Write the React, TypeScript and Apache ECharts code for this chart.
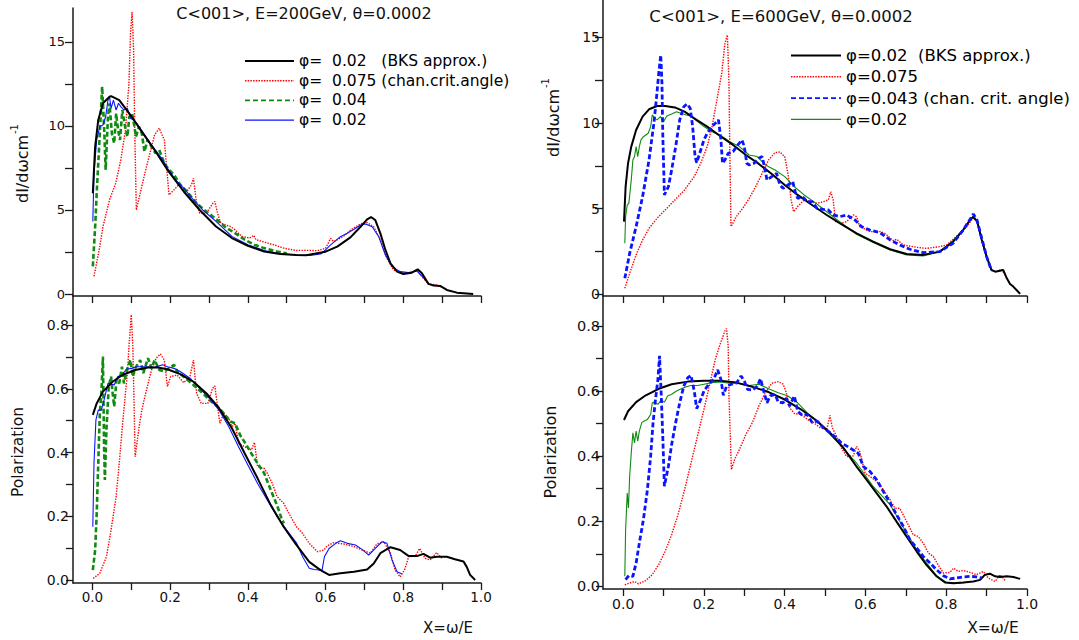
import React, { useEffect, useRef } from "react";
import * as echarts from "echarts";

const FONT = "DejaVu Sans";
const AXIS_COLOR = "#1a1a1a";

const X_TICKS = [0, 0.1, 0.2, 0.3, 0.4, 0.5, 0.6, 0.7, 0.8, 0.9, 1.0];
const X_LABELS = [0, 0.2, 0.4, 0.6, 0.8, 1.0];
const DI_TICKS = [0, 2.5, 5, 7.5, 10, 12.5, 15];
const DI_LABELS = [0, 5, 10, 15];
const POL_TICKS = [0, 0.1, 0.2, 0.3, 0.4, 0.5, 0.6, 0.7, 0.8];
const POL_LABELS = [0, 0.2, 0.4, 0.6, 0.8];

const LEFT_NAMES = ["φ=  0.02   (BKS approx.)", "φ=  0.075 (chan.crit.angle)", "φ=  0.04", "φ=  0.02"];
const RIGHT_NAMES = ["φ=0.02  (BKS approx.)", "φ=0.075", "φ=0.043 (chan. crit. angle)", "φ=0.02"];

const TITLE_LEFT = "C<001>, E=200GeV, θ=0.0002";
const TITLE_RIGHT = "C<001>, E=600GeV, θ=0.0002";

// ---------- E = 200 GeV, intensity ----------
const L_INT_BKS = [[0.001,6.0],[0.007,8.77],[0.015,10.36],[0.027,11.35],[0.044,11.74],[0.048,11.78],[0.069,11.54],[0.098,10.65],[0.127,9.66],[0.16,8.57],[0.193,7.39],[0.235,6.1],[0.276,5.0],[0.318,4.02],[0.359,3.33],[0.40,2.87],[0.442,2.53],[0.483,2.38],[0.525,2.32],[0.55,2.31],[0.6,2.52],[0.63,2.82],[0.664,3.37],[0.69,4.0],[0.707,4.44],[0.717,4.58],[0.728,4.4],[0.741,3.61],[0.754,2.62],[0.767,1.83],[0.784,1.33],[0.80,1.19],[0.822,1.27],[0.837,1.47],[0.848,1.23],[0.865,0.6],[0.878,0.5],[0.895,0.48],[0.912,0.24],[0.938,0.08],[0.98,0]];
const L_INT_075 = [[0.004,1.05],[0.019,2.83],[0.027,4.0],[0.044,5.6],[0.06,6.6],[0.073,7.98],[0.085,9.76],[0.094,12.53],[0.098,15.5],[0.102,16.8],[0.106,14.5],[0.109,9.56],[0.113,5.0],[0.123,6.0],[0.135,7.19],[0.148,8.38],[0.16,9.47],[0.172,9.86],[0.185,9.17],[0.193,6.99],[0.197,5.9],[0.21,6.2],[0.222,6.5],[0.243,6.1],[0.255,6.5],[0.26,6.89],[0.268,5.4],[0.276,4.81],[0.293,4.81],[0.31,5.4],[0.315,5.5],[0.322,4.81],[0.33,4.22],[0.342,4.12],[0.355,4.02],[0.367,3.82],[0.384,3.43],[0.405,3.33],[0.415,3.49],[0.421,3.23],[0.442,3.09],[0.467,2.93],[0.492,2.73],[0.525,2.59],[0.55,2.6],[0.579,2.58],[0.6,2.72],[0.613,3.31],[0.621,3.11],[0.647,3.45],[0.664,3.81],[0.69,4.17],[0.707,4.25],[0.724,4.0],[0.741,3.21],[0.758,2.12],[0.775,1.43],[0.792,1.27],[0.818,1.27],[0.835,1.39],[0.848,1.03],[0.865,0.6],[0.886,0.54],[0.9,0.4]];
const L_INT_04 = [[0.001,1.64],[0.007,4.0],[0.011,6.0],[0.019,9.56],[0.025,12.34],[0.03,9.96],[0.034,7.39],[0.04,10.55],[0.044,11.35],[0.05,9.56],[0.056,8.97],[0.061,10.75],[0.066,9.76],[0.071,9.17],[0.077,10.95],[0.084,9.96],[0.09,9.37],[0.095,10.55],[0.102,10.75],[0.108,9.96],[0.112,9.37],[0.12,9.96],[0.127,9.56],[0.134,8.48],[0.142,9.17],[0.152,8.77],[0.162,8.38],[0.172,8.57],[0.185,7.78],[0.197,7.39],[0.21,7.09],[0.226,6.5],[0.243,6.1],[0.268,5.4],[0.293,4.91],[0.318,4.46],[0.342,3.98],[0.367,3.62],[0.392,3.23],[0.417,2.93],[0.442,2.73],[0.475,2.53],[0.5,2.42]];
const L_INT_02 = [[0.001,4.32],[0.004,7.19],[0.011,9.17],[0.019,9.96],[0.027,10.06],[0.034,10.55],[0.04,11.54],[0.044,11.74],[0.048,11.05],[0.054,11.54],[0.061,10.95],[0.067,11.35],[0.073,11.15],[0.081,10.95],[0.09,11.05],[0.098,10.46],[0.106,10.36],[0.114,10.16],[0.152,8.87],[0.181,7.98],[0.193,7.49],[0.214,6.79],[0.235,6.3],[0.26,5.6],[0.284,5.0],[0.318,4.32],[0.359,3.43],[0.4,2.93],[0.442,2.59],[0.483,2.4],[0.525,2.32],[0.56,2.3],[0.587,2.38],[0.6,2.62],[0.613,2.92],[0.638,3.41],[0.656,3.61],[0.673,3.85],[0.69,4.11],[0.703,4.17],[0.72,4.0],[0.737,3.41],[0.754,2.32],[0.771,1.63],[0.792,1.33],[0.813,1.27],[0.835,1.37],[0.848,1.07],[0.865,0.6],[0.88,0.52]];

// ---------- E = 200 GeV, polarization ----------
const L_POL_BKS = [[0.001,0.518],[0.011,0.554],[0.027,0.591],[0.052,0.622],[0.077,0.643],[0.11,0.659],[0.143,0.667],[0.168,0.667],[0.193,0.661],[0.226,0.646],[0.26,0.622],[0.293,0.586],[0.326,0.539],[0.359,0.476],[0.392,0.397],[0.425,0.319],[0.459,0.235],[0.492,0.167],[0.525,0.11],[0.558,0.057],[0.587,0.031],[0.609,0.016],[0.638,0.021],[0.673,0.026],[0.707,0.033],[0.724,0.052],[0.741,0.084],[0.767,0.103],[0.792,0.094],[0.814,0.075],[0.835,0.075],[0.852,0.082],[0.869,0.07],[0.886,0.073],[0.912,0.073],[0.933,0.065],[0.955,0.058],[0.963,0.042],[0.972,0.016],[0.985,0]];
const L_POL_075 = [[0.002,0.005],[0.019,0.021],[0.036,0.073],[0.048,0.157],[0.061,0.262],[0.069,0.366],[0.077,0.481],[0.085,0.586],[0.09,0.649],[0.094,0.732],[0.1,0.832],[0.104,0.732],[0.108,0.502],[0.11,0.387],[0.119,0.471],[0.127,0.533],[0.139,0.596],[0.152,0.659],[0.164,0.696],[0.175,0.709],[0.185,0.69],[0.193,0.607],[0.201,0.638],[0.218,0.643],[0.235,0.619],[0.251,0.638],[0.26,0.69],[0.268,0.586],[0.28,0.554],[0.297,0.554],[0.309,0.601],[0.315,0.609],[0.322,0.544],[0.328,0.492],[0.338,0.523],[0.351,0.507],[0.359,0.481],[0.367,0.492],[0.376,0.429],[0.392,0.418],[0.409,0.408],[0.417,0.432],[0.425,0.356],[0.442,0.35],[0.45,0.335],[0.463,0.303],[0.475,0.262],[0.492,0.241],[0.508,0.204],[0.525,0.167],[0.541,0.146],[0.558,0.115],[0.579,0.089],[0.596,0.094],[0.604,0.107],[0.621,0.117],[0.647,0.113],[0.673,0.105],[0.698,0.092],[0.715,0.084],[0.732,0.113],[0.75,0.12],[0.767,0.084],[0.779,0.031],[0.792,0.01],[0.803,0.031],[0.814,0.073],[0.831,0.075],[0.842,0.099],[0.856,0.068],[0.869,0.063],[0.886,0.086],[0.899,0.068]];
const L_POL_04 = [[0.001,0.031],[0.007,0.094],[0.011,0.209],[0.015,0.366],[0.019,0.523],[0.023,0.586],[0.027,0.701],[0.03,0.418],[0.032,0.314],[0.036,0.471],[0.042,0.607],[0.048,0.638],[0.052,0.586],[0.056,0.544],[0.062,0.628],[0.069,0.617],[0.076,0.669],[0.081,0.617],[0.09,0.664],[0.098,0.69],[0.104,0.638],[0.11,0.664],[0.123,0.69],[0.131,0.649],[0.143,0.696],[0.152,0.664],[0.16,0.69],[0.172,0.659],[0.185,0.654],[0.197,0.664],[0.21,0.675],[0.218,0.654],[0.235,0.638],[0.26,0.612],[0.284,0.586],[0.301,0.565],[0.322,0.544],[0.338,0.523],[0.355,0.497],[0.367,0.492],[0.38,0.455],[0.396,0.424],[0.409,0.397],[0.425,0.366],[0.442,0.335],[0.459,0.282],[0.475,0.235],[0.488,0.188],[0.493,0.178]];
const L_POL_02 = [[0.001,0.167],[0.004,0.366],[0.009,0.502],[0.015,0.533],[0.023,0.533],[0.03,0.565],[0.04,0.617],[0.048,0.615],[0.056,0.612],[0.065,0.638],[0.077,0.643],[0.087,0.661],[0.102,0.664],[0.114,0.669],[0.135,0.669],[0.16,0.667],[0.181,0.675],[0.193,0.669],[0.21,0.664],[0.226,0.654],[0.251,0.633],[0.276,0.601],[0.301,0.57],[0.326,0.533],[0.351,0.481],[0.376,0.418],[0.4,0.361],[0.425,0.303],[0.45,0.251],[0.475,0.199],[0.5,0.157],[0.525,0.117],[0.541,0.073],[0.558,0.037],[0.57,0.033],[0.591,0.031],[0.597,0.073],[0.609,0.099],[0.626,0.115],[0.638,0.123],[0.656,0.115],[0.677,0.11],[0.694,0.096],[0.711,0.078],[0.728,0.099],[0.745,0.12],[0.758,0.115],[0.771,0.063],[0.784,0.026],[0.797,0.019]];

// ---------- E = 600 GeV, intensity ----------
const R_INT_BKS = [[0.002,4.24],[0.006,6.28],[0.012,7.65],[0.02,8.62],[0.032,9.59],[0.048,10.37],[0.064,10.8],[0.084,10.99],[0.104,10.99],[0.128,10.91],[0.152,10.66],[0.176,10.27],[0.208,9.79],[0.24,9.24],[0.272,8.72],[0.304,8.13],[0.336,7.61],[0.368,7.02],[0.4,6.38],[0.432,5.8],[0.464,5.27],[0.504,4.63],[0.536,4.16],[0.578,3.56],[0.619,3.07],[0.661,2.63],[0.702,2.35],[0.743,2.3],[0.784,2.49],[0.817,3.07],[0.842,3.75],[0.859,4.34],[0.867,4.53],[0.877,4.24],[0.888,3.17],[0.9,2.2],[0.912,1.42],[0.921,1.32],[0.933,1.38],[0.941,1.42],[0.95,0.93],[0.958,0.6],[0.966,0.45],[0.974,0.25],[0.983,0.02]];
const R_INT_075 = [[0.004,0.35],[0.016,1.23],[0.032,2.3],[0.048,3.17],[0.064,3.85],[0.084,4.44],[0.104,4.92],[0.128,5.51],[0.152,6.09],[0.176,6.87],[0.192,7.65],[0.208,8.62],[0.22,9.79],[0.232,11.34],[0.244,12.9],[0.252,14.65],[0.258,15.14],[0.262,12.32],[0.264,8.42],[0.267,3.95],[0.28,4.53],[0.296,5.02],[0.312,5.6],[0.328,6.28],[0.344,7.06],[0.36,7.84],[0.376,8.27],[0.388,8.31],[0.4,8.03],[0.408,7.06],[0.416,5.51],[0.422,4.82],[0.432,5.12],[0.448,5.51],[0.464,5.41],[0.48,5.31],[0.496,5.41],[0.508,5.51],[0.514,5.99],[0.52,5.51],[0.526,4.24],[0.54,4.14],[0.553,4.24],[0.57,4.63],[0.578,4.53],[0.586,3.95],[0.611,3.66],[0.636,3.66],[0.648,3.56],[0.669,3.13],[0.677,3.21],[0.694,2.88],[0.727,2.74],[0.751,2.68],[0.784,2.78],[0.801,2.88],[0.817,3.21],[0.834,3.56],[0.851,3.95],[0.863,4.34],[0.87,4.44],[0.877,4.14],[0.888,3.17],[0.9,2.2],[0.912,1.38],[0.925,1.32],[0.937,1.46],[0.946,1.13]];
const R_INT_043 = [[0.004,0.93],[0.016,2.39],[0.032,3.95],[0.048,5.7],[0.064,7.84],[0.076,9.98],[0.082,11.34],[0.088,12.9],[0.093,13.97],[0.096,12.32],[0.098,9.4],[0.102,5.8],[0.112,6.28],[0.12,7.26],[0.13,8.62],[0.14,10.18],[0.15,10.95],[0.158,11.11],[0.166,10.86],[0.172,9.79],[0.178,8.04],[0.182,7.68],[0.192,8.42],[0.2,9.01],[0.208,9.4],[0.22,9.79],[0.228,9.98],[0.236,10.18],[0.242,9.01],[0.246,7.65],[0.252,7.84],[0.26,8.23],[0.272,8.33],[0.284,8.72],[0.294,9.01],[0.3,8.62],[0.306,7.65],[0.312,7.55],[0.324,7.65],[0.336,7.94],[0.344,8.04],[0.35,7.45],[0.356,6.67],[0.368,6.87],[0.38,7.06],[0.388,6.38],[0.396,6.19],[0.408,6.38],[0.42,6.58],[0.426,5.99],[0.432,5.6],[0.444,5.7],[0.456,5.41],[0.468,5.41],[0.48,5.02],[0.496,4.96],[0.508,4.92],[0.52,4.63],[0.536,4.53],[0.553,4.63],[0.574,4.34],[0.59,3.95],[0.611,3.75],[0.636,3.6],[0.661,3.17],[0.685,2.88],[0.71,2.63],[0.743,2.43],[0.784,2.49],[0.817,2.98],[0.842,3.75],[0.859,4.38],[0.867,4.69],[0.876,4.34],[0.888,3.27],[0.9,2.2],[0.912,1.38]];
const R_INT_02 = [[0.004,2.98],[0.006,4.53],[0.01,5.21],[0.014,5.31],[0.02,6.67],[0.024,7.84],[0.028,8.04],[0.032,8.62],[0.036,8.04],[0.04,8.62],[0.044,9.01],[0.05,9.2],[0.056,9.3],[0.062,9.4],[0.068,9.79],[0.072,10.47],[0.078,10.27],[0.084,10.18],[0.092,10.37],[0.1,10.08],[0.108,10.41],[0.12,10.53],[0.132,10.66],[0.144,10.56],[0.156,10.47],[0.168,10.41],[0.184,10.08],[0.2,9.79],[0.22,9.49],[0.24,9.3],[0.264,8.91],[0.288,8.62],[0.312,8.13],[0.332,8.04],[0.352,7.55],[0.376,7.26],[0.4,6.87],[0.424,6.28],[0.448,5.8],[0.472,5.41],[0.504,4.82],[0.536,4.24],[0.578,3.5],[0.619,3.02],[0.661,2.59],[0.702,2.3],[0.743,2.24],[0.784,2.49],[0.817,3.13],[0.842,3.79],[0.859,4.34],[0.866,4.49],[0.876,4.24],[0.888,3.21],[0.9,2.2]];

// ---------- E = 600 GeV, polarization ----------
const R_POL_BKS = [[0.002,0.511],[0.012,0.538],[0.032,0.566],[0.056,0.587],[0.088,0.607],[0.12,0.621],[0.16,0.629],[0.2,0.632],[0.24,0.632],[0.28,0.626],[0.32,0.613],[0.36,0.597],[0.4,0.574],[0.44,0.544],[0.48,0.508],[0.512,0.472],[0.544,0.428],[0.578,0.368],[0.603,0.327],[0.628,0.286],[0.652,0.246],[0.677,0.199],[0.702,0.153],[0.727,0.107],[0.751,0.066],[0.776,0.031],[0.797,0.012],[0.818,0.01],[0.842,0.012],[0.867,0.015],[0.884,0.02],[0.896,0.036],[0.908,0.039],[0.921,0.031],[0.933,0.029],[0.95,0.031],[0.966,0.029],[0.983,0.023]];
const R_POL_075 = [[0.004,0.005],[0.02,0.012],[0.028,0.015],[0.038,0.008],[0.056,0.018],[0.072,0.036],[0.088,0.067],[0.104,0.108],[0.12,0.159],[0.136,0.221],[0.152,0.297],[0.168,0.379],[0.184,0.462],[0.2,0.544],[0.216,0.631],[0.228,0.697],[0.24,0.744],[0.252,0.785],[0.256,0.792],[0.26,0.738],[0.262,0.585],[0.266,0.431],[0.268,0.359],[0.276,0.39],[0.288,0.421],[0.304,0.467],[0.32,0.503],[0.336,0.554],[0.352,0.595],[0.368,0.624],[0.384,0.629],[0.396,0.621],[0.404,0.595],[0.412,0.549],[0.424,0.531],[0.44,0.528],[0.456,0.513],[0.472,0.503],[0.488,0.487],[0.504,0.482],[0.512,0.525],[0.518,0.487],[0.528,0.462],[0.54,0.426],[0.553,0.399],[0.57,0.401],[0.578,0.43],[0.586,0.414],[0.599,0.348],[0.611,0.338],[0.628,0.322],[0.644,0.297],[0.661,0.266],[0.673,0.24],[0.685,0.24],[0.702,0.199],[0.718,0.159],[0.731,0.153],[0.743,0.133],[0.756,0.102],[0.768,0.092],[0.78,0.066],[0.793,0.041],[0.809,0.043],[0.818,0.056],[0.83,0.046],[0.842,0.049],[0.859,0.043],[0.875,0.036],[0.892,0.046],[0.904,0.026],[0.921,0.015],[0.933,0.036],[0.946,0.018]];
const R_POL_043 = [[0.006,0.021],[0.014,0.033],[0.024,0.031],[0.032,0.072],[0.04,0.133],[0.05,0.205],[0.06,0.297],[0.068,0.4],[0.074,0.503],[0.08,0.574],[0.086,0.636],[0.09,0.708],[0.094,0.595],[0.098,0.462],[0.102,0.308],[0.112,0.369],[0.12,0.436],[0.13,0.503],[0.14,0.564],[0.15,0.615],[0.16,0.641],[0.168,0.648],[0.176,0.6],[0.182,0.546],[0.192,0.574],[0.2,0.6],[0.212,0.621],[0.224,0.636],[0.234,0.665],[0.242,0.636],[0.248,0.587],[0.256,0.615],[0.268,0.621],[0.28,0.624],[0.292,0.646],[0.3,0.631],[0.308,0.605],[0.32,0.603],[0.332,0.615],[0.34,0.638],[0.348,0.6],[0.356,0.564],[0.364,0.585],[0.376,0.59],[0.384,0.566],[0.396,0.564],[0.404,0.579],[0.412,0.554],[0.424,0.585],[0.432,0.538],[0.444,0.525],[0.456,0.528],[0.468,0.503],[0.48,0.508],[0.496,0.487],[0.512,0.472],[0.528,0.456],[0.54,0.441],[0.562,0.425],[0.582,0.409],[0.595,0.368],[0.611,0.353],[0.628,0.327],[0.644,0.292],[0.661,0.256],[0.677,0.22],[0.694,0.184],[0.71,0.143],[0.727,0.118],[0.743,0.092],[0.76,0.072],[0.776,0.051],[0.793,0.033],[0.809,0.023],[0.826,0.026],[0.842,0.029],[0.859,0.031],[0.875,0.029],[0.888,0.026]];
const R_POL_02 = [[0.004,0.031],[0.006,0.174],[0.01,0.287],[0.013,0.241],[0.016,0.338],[0.02,0.41],[0.024,0.472],[0.028,0.441],[0.032,0.477],[0.036,0.446],[0.04,0.477],[0.046,0.503],[0.052,0.508],[0.06,0.513],[0.068,0.528],[0.072,0.564],[0.078,0.566],[0.086,0.559],[0.094,0.572],[0.102,0.566],[0.11,0.585],[0.12,0.59],[0.132,0.6],[0.144,0.607],[0.156,0.613],[0.168,0.617],[0.184,0.617],[0.2,0.621],[0.22,0.626],[0.24,0.628],[0.264,0.624],[0.288,0.624],[0.312,0.617],[0.336,0.621],[0.36,0.607],[0.384,0.595],[0.408,0.585],[0.432,0.564],[0.456,0.533],[0.48,0.508],[0.504,0.477],[0.536,0.436],[0.578,0.379],[0.619,0.307],[0.661,0.251],[0.702,0.164],[0.727,0.113],[0.751,0.072],[0.776,0.033],[0.801,0.012],[0.826,0.01],[0.851,0.012]];

const fmt1 = (v: number) => v.toFixed(1);
const fmt0 = (v: number) => String(v);

function xAxis(gridIndex: number, labels: boolean, labelSize: number, margin: number) {
  return {
    type: "value",
    gridIndex,
    min: -0.05,
    max: 1.0,
    axisLine: { show: true, onZero: false, lineStyle: { color: AXIS_COLOR, width: 1.5 } },
    axisTick: { show: true, inside: false, length: 7, customValues: X_TICKS, lineStyle: { color: AXIS_COLOR, width: 1.3 } },
    axisLabel: labels
      ? { show: true, customValues: X_LABELS, formatter: fmt1, margin, fontFamily: FONT, fontSize: labelSize, color: "#111" }
      : { show: false },
    splitLine: { show: false },
  };
}

function yAxis(gridIndex: number, min: number, max: number, ticks: number[], labels: number[], fmt: (v: number) => string, labelSize: number, margin: number, tickLen: number) {
  return {
    type: "value",
    gridIndex,
    min,
    max,
    axisLine: { show: true, onZero: false, lineStyle: { color: AXIS_COLOR, width: 1.5 } },
    axisTick: { show: true, inside: false, length: tickLen, customValues: ticks, lineStyle: { color: AXIS_COLOR, width: 1.3 } },
    axisLabel: { show: true, customValues: labels, formatter: fmt, margin, fontFamily: FONT, fontSize: labelSize, color: "#111" },
    splitLine: { show: false },
  };
}

function line(name: string, data: number[][], idx: number, color: string, width: number, type: any, z: number) {
  return {
    type: "line",
    name,
    data,
    xAxisIndex: idx,
    yAxisIndex: idx,
    symbol: "none",
    showSymbol: false,
    smooth: false,
    clip: true,
    silent: true,
    z,
    itemStyle: { color },
    lineStyle: { color, width, type },
  };
}

const RED = "#ff0000";
const GREEN = "#118a11";
const BLUE = "#0a14ff";
const BLACK = "#000000";
const DOT = [1.4, 1.3];
const DASH = [5, 2.6];

function buildOption() {
  const series: any[] = [];
  // Top-left: E=200GeV intensity (grid 0), bottom-left: polarization (grid 1)
  series.push(line(LEFT_NAMES[1], L_INT_075, 0, RED, 1.4, DOT, 2));
  series.push(line(LEFT_NAMES[2], L_INT_04, 0, GREEN, 2.6, DASH, 3));
  series.push(line(LEFT_NAMES[3], L_INT_02, 0, BLUE, 1.1, "solid", 4));
  series.push(line(LEFT_NAMES[0], L_INT_BKS, 0, BLACK, 2, "solid", 5));
  series.push(line(LEFT_NAMES[1], L_POL_075, 1, RED, 1.4, DOT, 2));
  series.push(line(LEFT_NAMES[2], L_POL_04, 1, GREEN, 2.6, DASH, 3));
  series.push(line(LEFT_NAMES[3], L_POL_02, 1, BLUE, 1.1, "solid", 4));
  series.push(line(LEFT_NAMES[0], L_POL_BKS, 1, BLACK, 2, "solid", 5));
  // Top-right: E=600GeV intensity (grid 2), bottom-right: polarization (grid 3)
  series.push(line(RIGHT_NAMES[1], R_INT_075, 2, RED, 1.4, DOT, 2));
  series.push(line(RIGHT_NAMES[3], R_INT_02, 2, GREEN, 1.1, "solid", 3));
  series.push(line(RIGHT_NAMES[0], R_INT_BKS, 2, BLACK, 2, "solid", 4));
  series.push(line(RIGHT_NAMES[2], R_INT_043, 2, BLUE, 2.8, DASH, 5));
  series.push(line(RIGHT_NAMES[1], R_POL_075, 3, RED, 1.4, DOT, 2));
  series.push(line(RIGHT_NAMES[3], R_POL_02, 3, GREEN, 1.1, "solid", 3));
  series.push(line(RIGHT_NAMES[0], R_POL_BKS, 3, BLACK, 2, "solid", 4));
  series.push(line(RIGHT_NAMES[2], R_POL_043, 3, BLUE, 2.8, DASH, 5));

  const legendLeftStyles = [
    { color: BLACK, width: 2, type: "solid" },
    { color: RED, width: 1.4, type: [1.5, 1.2] },
    { color: GREEN, width: 1.6, type: [5, 3] },
    { color: BLUE, width: 1.3, type: "solid" },
  ];
  const legendRightStyles = [
    { color: BLACK, width: 2, type: "solid" },
    { color: RED, width: 1.4, type: [1.5, 1.2] },
    { color: BLUE, width: 1.6, type: [5, 3] },
    { color: GREEN, width: 1.3, type: "solid" },
  ];

  const legendBase = {
    orient: "vertical",
    selectedMode: false,
    align: "left",
    itemStyle: { opacity: 0, color: "rgba(0,0,0,0)", borderWidth: 0 },
  };

  const txt = (x: number, y: number, text: string, size: number, rot = 0, align = "center") => ({
    type: "text",
    x,
    y,
    rotation: rot,
    silent: true,
    style: { text, fontFamily: FONT, fontSize: size, fill: "#111", align, verticalAlign: "middle" },
  });

  const yMainSize = 16;
  const yMainLen = 68;

  return {
    animation: false,
    backgroundColor: "#ffffff",
    textStyle: { fontFamily: FONT },
    grid: [
      { left: 73, top: 8, width: 408, height: 288 },
      { left: 73, top: 296, width: 408, height: 287 },
      { left: 603, top: 0, width: 424, height: 296 },
      { left: 603, top: 296, width: 424, height: 293 },
    ],
    xAxis: [
      xAxis(0, false, 13, 6),
      xAxis(1, true, 13.5, 7),
      xAxis(2, false, 13, 6),
      xAxis(3, true, 14, 8),
    ],
    yAxis: [
      yAxis(0, -0.119, 17.02, DI_TICKS, DI_LABELS, fmt0, 13, 8, 8),
      yAxis(1, -0.0094, 0.891, POL_TICKS, POL_LABELS, fmt1, 14, 4, 7),
      yAxis(2, -0.1, 17.18, DI_TICKS, DI_LABELS, fmt0, 14, 3, 8),
      yAxis(3, -0.008, 0.892, POL_TICKS, POL_LABELS, fmt1, 14.5, 3, 7),
    ],
    legend: [
      {
        ...legendBase,
        left: 239,
        top: 48,
        itemWidth: 49,
        itemHeight: 14,
        itemGap: 3.7,
        textStyle: { fontFamily: FONT, fontSize: 15.5, color: "#000" },
        data: LEFT_NAMES.map((name, i) => ({ name, lineStyle: legendLeftStyles[i] })),
      },
      {
        ...legendBase,
        left: 785,
        top: 42,
        itemWidth: 50,
        itemHeight: 14,
        itemGap: 4.3,
        textStyle: { fontFamily: FONT, fontSize: 16.5, color: "#000" },
        data: RIGHT_NAMES.map((name, i) => ({ name, lineStyle: legendRightStyles[i] })),
      },
    ],
    graphic: [
      txt(304, 13, TITLE_LEFT, 16),
      txt(781, 16, TITLE_RIGHT, 16.5),
      // y-axis names, intensity panels (main text + superscript)
      txt(22, 203, "dI/dωcm", yMainSize, Math.PI / 2, "left"),
      txt(14, 203 - yMainLen - 1, "-1", 10, Math.PI / 2, "left"),
      txt(553, 157, "dI/dωcm", yMainSize, Math.PI / 2, "left"),
      txt(545, 157 - yMainLen - 1, "-1", 10, Math.PI / 2, "left"),
      // polarization axis names
      txt(18, 452, "Polarization", 15.5, Math.PI / 2),
      txt(550, 452, "Polarization", 16, Math.PI / 2),
      // x-axis names
      txt(448, 628, "X=ω/E", 15),
      txt(993, 628, "X=ω/E", 15.5),
    ],
    series,
  };
}

export default function App() {
  const ref = useRef<HTMLDivElement>(null);
  useEffect(() => {
    if (!ref.current) return;
    const chart = echarts.init(ref.current, null, { renderer: "svg" });
    chart.setOption(buildOption() as any);
    return () => chart.dispose();
  }, []);
  return (
    <div
      ref={ref}
      style={{ position: "fixed", left: 0, top: 0, width: 1079, height: 640, background: "#fff" }}
    />
  );
}
